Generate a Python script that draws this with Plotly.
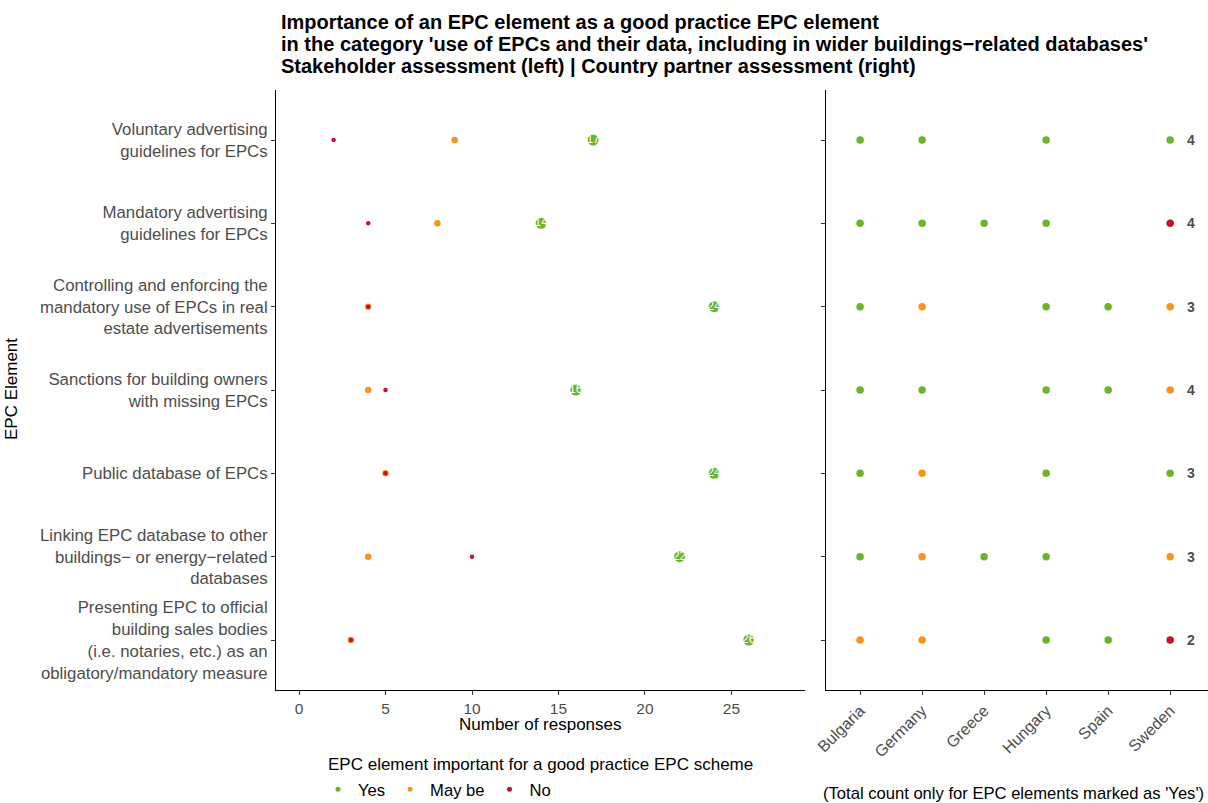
import plotly.graph_objects as go

# ---------------- data ----------------
elements = [
    "Voluntary advertising<br>guidelines for EPCs",
    "Mandatory advertising<br>guidelines for EPCs",
    "Controlling and enforcing the<br>mandatory use of EPCs in real<br>estate advertisements",
    "Sanctions for building owners<br>with missing EPCs",
    "Public database of EPCs",
    "Linking EPC database to other<br>buildings\u2212 or energy\u2212related<br>databases",
    "Presenting EPC to official<br>building sales bodies<br>(i.e. notaries, etc.) as an<br>obligatory/mandatory measure",
]
yes_counts = [17, 14, 24, 16, 24, 22, 26]
maybe_counts = [9, 8, 4, 4, 5, 4, 3]
no_counts = [2, 4, 4, 5, 5, 10, 3]

countries = ["Bulgaria", "Germany", "Greece", "Hungary", "Spain", "Sweden"]
country_ratings = [
    ["Yes", "Yes", None, "Yes", None, "Yes"],
    ["Yes", "Yes", "Yes", "Yes", None, "No"],
    ["Yes", "May be", None, "Yes", "Yes", "May be"],
    ["Yes", "Yes", None, "Yes", "Yes", "May be"],
    ["Yes", "May be", None, "Yes", None, "Yes"],
    ["Yes", "May be", "Yes", "Yes", None, "May be"],
    ["May be", "May be", None, "Yes", "Yes", "No"],
]
categories = ["Yes", "May be", "No"]
colors = {"Yes": "#6BB52E", "May be": "#F7941D", "No": "#C4122F"}

title_lines = [
    "Importance of an EPC element as a good practice EPC element",
    "in the category 'use of EPCs and their data, including in wider buildings\u2212related databases'",
    "Stakeholder assessment (left) | Country partner assessment (right)",
]

FONT = "Liberation Sans, Arial, sans-serif"
GRAY = "#4D4D4D"
FS = 17
W, H = 1208, 803

fig = go.Figure()

# ---------------- left panel ----------------
fig.add_trace(go.Scatter(x=maybe_counts, y=elements, mode="markers",
                         marker=dict(color=colors["May be"], size=6.5),
                         showlegend=False, xaxis="x", yaxis="y", hoverinfo="x+y"))
fig.add_trace(go.Scatter(x=no_counts, y=elements, mode="markers",
                         marker=dict(color=colors["No"], size=4.5),
                         showlegend=False, xaxis="x", yaxis="y", hoverinfo="x+y"))
fig.add_trace(go.Scatter(x=yes_counts, y=elements, mode="markers+text",
                         marker=dict(color=colors["Yes"], size=11),
                         text=[str(v) for v in yes_counts], textposition="middle center",
                         textfont=dict(color="white", size=12, family=FONT),
                         showlegend=False, xaxis="x", yaxis="y", hoverinfo="x+y"))

# ---------------- right panel ----------------
for cat in categories:
    xs, ys = [], []
    for el, ratings in zip(elements, country_ratings):
        for ci, r in enumerate(ratings):
            if r == cat:
                xs.append(ci)
                ys.append(el)
    fig.add_trace(go.Scatter(x=xs, y=ys, mode="markers",
                             marker=dict(color=colors[cat], size=7.5),
                             showlegend=False, xaxis="x2", yaxis="y2", hoverinfo="y"))

# yes totals as labels next to the last country
yes_totals = [sum(1 for r in ratings if r == "Yes") for ratings in country_ratings]
annotations = []
for el, tot in zip(elements, yes_totals):
    annotations.append(dict(x=len(countries) - 1, y=el, xref="x2", yref="y2",
                            text=f"<b>{tot}</b>", showarrow=False, xshift=21,
                            font=dict(size=14, color=GRAY, family=FONT)))

# legend-only traces
for cat in categories:
    fig.add_trace(go.Scatter(x=[None], y=[None], mode="markers", name=cat,
                             marker=dict(color=colors[cat], size=5),
                             showlegend=True, xaxis="x", yaxis="y"))

# ---------------- texts ----------------
for i, line in enumerate(title_lines):
    annotations.append(dict(x=279 / W, y=1 - (22 + 22 * i) / H, xref="paper", yref="paper",
                            xanchor="left", yanchor="middle", align="left", showarrow=False,
                            text=f"<b>{line}</b>",
                            font=dict(size=20, color="black", family=FONT)))
annotations += [
    dict(x=540.5 / W, y=1 - 724 / H, xref="paper", yref="paper", xanchor="center", yanchor="middle",
         showarrow=False, text="Number of responses", font=dict(size=FS, color="black", family=FONT)),
    dict(x=1206 / W, y=1 - 793 / H, xref="paper", yref="paper", xanchor="right", yanchor="middle",
         showarrow=False, text="(Total count only for EPC elements marked as 'Yes')",
         font=dict(size=16.6, color="black", family=FONT)),
    dict(x=12 / W, y=1 - 389 / H, xref="paper", yref="paper", xanchor="center", yanchor="middle",
         showarrow=False, textangle=-90, text="EPC Element",
         font=dict(size=FS, color="black", family=FONT)),
    dict(x=540 / W, y=1 - 764 / H, xref="paper", yref="paper", xanchor="center", yanchor="middle",
         showarrow=False, text="EPC element important for a good practice EPC scheme",
         font=dict(size=FS, color="black", family=FONT)),
]

ydom = [1 - 690 / H, 1 - 90 / H]
yrange = [len(elements) - 0.4, -0.6]
axis_common = dict(showline=True, linecolor="black", linewidth=1, showgrid=False, zeroline=False,
                   ticks="outside", tickcolor="#333333", ticklen=4, tickwidth=1, automargin=False)

fig.update_layout(
    width=W, height=H,
    margin=dict(l=0, r=0, t=0, b=0, autoexpand=False),
    paper_bgcolor="white", plot_bgcolor="white",
    font=dict(family=FONT, size=FS, color="black"),
    xaxis=dict(domain=[276 / W, 805 / W], range=[-1.33, 29.25], tickvals=[0, 5, 10, 15, 20, 25],
               anchor="y", tickfont=dict(size=15.5, color=GRAY, family=FONT), **axis_common),
    yaxis=dict(domain=ydom, type="category", categoryorder="array", categoryarray=elements,
               range=yrange, anchor="x", ticklabelstandoff=0,
               tickfont=dict(size=16.8, color=GRAY, family=FONT), **axis_common),
    xaxis2=dict(domain=[826 / W, 1.0], range=[-0.55, 5.61], tickvals=list(range(len(countries))),
                ticktext=countries, tickangle=-45, anchor="y2",
                tickfont=dict(size=16, color=GRAY, family=FONT), **axis_common),
    yaxis2=dict(domain=ydom, type="category", categoryorder="array", categoryarray=elements,
                range=yrange, anchor="x2", showticklabels=False, **axis_common),
    annotations=annotations,
    showlegend=True,
    legend=dict(orientation="h", x=437 / W, xanchor="center", y=1 - 772 / H, yanchor="top",
                font=dict(size=16.6, color="black", family=FONT),
                itemsizing="trace", bgcolor="rgba(0,0,0,0)"),
)

fig.write_html("out.html")
